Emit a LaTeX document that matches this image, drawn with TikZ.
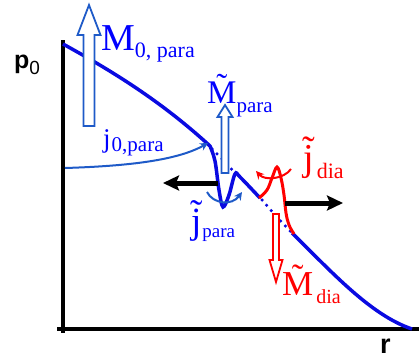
\documentclass[tikz,border=0pt]{standalone}
\usepackage{fontspec}
\setmainfont{Liberation Serif}
\newfontfamily\arialfont{Liberation Sans}
\usetikzlibrary{arrows.meta}
\definecolor{cblue}{RGB}{10,10,225}
\definecolor{ablue}{RGB}{30,90,200}
\definecolor{tblue}{RGB}{0,0,255}
\definecolor{cred}{RGB}{255,0,0}
\newcommand\fs[1]{\fontsize{#1}{#1}\selectfont}
\newcommand\tld[1]{\accent"02DC #1}
\begin{document}
\begin{tikzpicture}[x=1pt,y=-1pt,
  axis/.style={line width=3.5pt,black},
  prof/.style={line width=3.5pt,cblue},
  pert/.style={line width=3pt,cred},
  dotline/.style={line width=3.5pt,cblue,dash pattern=on 0pt off 7pt,line cap=round},
  hollowb/.style={draw=ablue,fill=white,line width=1.8pt},
  hollowr/.style={draw=cred,fill=white,line width=1.8pt},
  bigarrow/.style={line width=5pt,black,-{Stealth[length=16pt,width=15pt,inset=3pt]}},
  smallarrow/.style={line width=2pt,-{Stealth[length=8pt,width=8pt]}},
  lbl/.style={anchor=base west,inner sep=0pt}]
\useasboundingbox (0,0) rectangle (419,359);
% axes
\coordinate (ytop) at (63,40);
\coordinate (ybot) at (63,333);
\coordinate (xl) at (57,329);
\coordinate (xr) at (419,329);
\draw[axis] (ytop) -- (ybot);
\draw[axis] (xl) -- (xr);
\node[lbl] (p0) at (14,68) {\arialfont\fs{25}\bfseries p\raisebox{-6pt}{\mdseries\fs{19}0}};
\node[lbl,text depth=0pt] (r) at (380,353) {\arialfont\bfseries\fs{27}r};
% dotted equilibrium profile
\draw[dotline] plot[smooth] coordinates {(212,149) (224,161) (236,174)};
\draw[dotline] plot[smooth] coordinates {(262,200) (276,216) (292,233)};
% perturbed solid blue profile
\coordinate (c0) at (63,44);
\coordinate (c1) at (210,146);
\draw[prof] (c0) .. controls (112,71) and (161,101) .. (c1)
  -- plot[smooth,tension=0.55] coordinates {(210,146) (215,161) (219,190) (223,207) (229,195) (235,174) (240,177) (260,198)};
\coordinate (c2) at (292,233);
\coordinate (c3) at (412,329);
\draw[prof] (c2) .. controls (330,270) and (370,315) .. (c3);
% red perturbation
\draw[pert] plot[smooth,tension=0.6] coordinates {(259,198) (267,190) (272,178) (277,167) (281,178) (284,195) (286,213) (289,225) (294,234)};
% hollow arrows
\draw[hollowb] (83.5,126) -- (83.5,35) -- (77.5,35) -- (89,5) -- (100.5,35) -- (94.5,35) -- (94.5,126) -- cycle;
\draw[hollowb] (221.5,173) -- (221.5,117) -- (217.5,117) -- (225,105) -- (232.5,117) -- (228.5,117) -- (228.5,173) -- cycle;
\draw[hollowr] (273,214) -- (273,260) -- (269.5,260) -- (276,282) -- (282.5,260) -- (279,260) -- (279,214) -- cycle;
% black arrows
\coordinate (la1) at (218,183);
\coordinate (la2) at (163,183);
\coordinate (ra1) at (285,203);
\coordinate (ra2) at (343,203);
\draw[bigarrow] (la1) -- (la2);
\draw[bigarrow] (ra1) -- (ra2);
% current arrows
\coordinate (j0s) at (65,168);
\coordinate (j0e) at (208,143);
\draw[smallarrow,ablue] (j0s) .. controls (130,166) and (178,160) .. (j0e);
\coordinate (bas) at (207,192);
\coordinate (bae) at (242,192);
\draw[smallarrow,ablue] (bas) .. controls (213,204) and (232,206) .. (bae);
\coordinate (ras) at (291,169);
\coordinate (rae) at (256,171);
\draw[smallarrow,cred] (ras) .. controls (284,179) and (265,181) .. (rae);
% labels
\node[lbl,text=tblue] (m0) at (101,50) {\fs{38}M\raisebox{-7pt}{\fs{22}0, para}};
\node[lbl,text=tblue] (j0) at (103,147) {\fs{27}j\kern1pt\raisebox{-4pt}{\fs{21}0,para}};
\node[lbl,text=tblue] (mp) at (207,103) {\fs{33}\tld{M}\raisebox{-9pt}{\fs{21}para}};
\node[lbl,text=cred] (jd) at (303,170) {\fs{38}\tld{j}\kern3pt\raisebox{-8pt}{\fs{22}dia}};
\node[lbl,text=tblue] (jp) at (191,233) {\fs{37}\tld{j}\kern1pt\raisebox{-4pt}{\fs{19}para}};
\node[lbl,text=cred] (md) at (282,295) {\fs{35}\tld{M}\kern3pt\raisebox{-8pt}{\fs{20}dia}};
\end{tikzpicture}
\end{document}
